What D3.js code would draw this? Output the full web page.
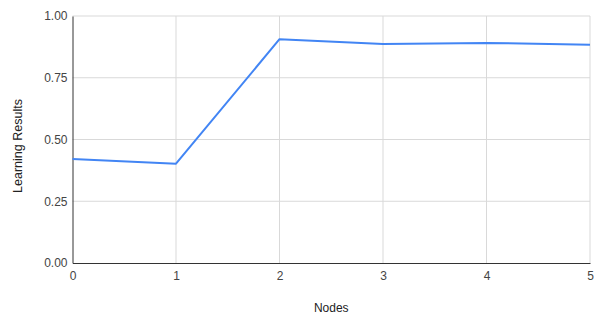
<!DOCTYPE html>
<html>
<head>
<meta charset="utf-8">
<script src="https://cdn.jsdelivr.net/npm/d3@7"></script>
<style>
  body { margin: 0; background: #fff; }
  text { font-family: Arial, "Liberation Sans", sans-serif; }
</style>
</head>
<body>
<div id="chart"></div>
<script>
// data
const nodes = [0, 1, 2, 3, 4, 5];
const learningResults = [0.421, 0.402, 0.906, 0.887, 0.891, 0.884];
const yTicks = [0, 0.25, 0.5, 0.75, 1];

const W = 602, H = 314;
const margin = { top: 16, right: 12, bottom: 51, left: 72.5 };
const width = W - margin.left - margin.right;
const height = H - margin.top - margin.bottom;

const svg = d3.select("#chart").append("svg")
  .attr("width", W).attr("height", H);

const g = svg.append("g")
  .attr("transform", `translate(${margin.left},${margin.top})`);

const x = d3.scaleLinear().domain([0, 5]).range([0, width]);
const y = d3.scaleLinear().domain([0, 1]).range([height, 0]);

// gridlines
g.append("g").selectAll("line").data(yTicks.slice(1)).enter().append("line")
  .attr("x1", 0).attr("x2", width)
  .attr("y1", d => y(d)).attr("y2", d => y(d))
  .attr("stroke", "#d9d9d9").attr("stroke-width", 1);
g.append("g").selectAll("line").data(nodes.slice(1)).enter().append("line")
  .attr("x1", d => x(d)).attr("x2", d => x(d))
  .attr("y1", 0).attr("y2", height)
  .attr("stroke", "#d9d9d9").attr("stroke-width", 1);

// axes
const yAxis = g.append("g")
  .call(d3.axisLeft(y).tickValues(yTicks).tickFormat(d3.format(".2f")).tickSize(0).tickPadding(5));
yAxis.select(".domain").attr("stroke", "#333");
yAxis.selectAll("text").attr("fill", "#444").style("font-size", "12px");

const xAxis = g.append("g")
  .attr("transform", `translate(0,${height})`)
  .call(d3.axisBottom(x).tickValues(nodes).tickFormat(d3.format("d")).tickSize(0).tickPadding(8));
xAxis.select(".domain").attr("stroke", "#333");
xAxis.selectAll("text").attr("fill", "#444").style("font-size", "12px");

// line
const line = d3.line()
  .x((d, i) => x(nodes[i]))
  .y(d => y(d));

g.append("path")
  .datum(learningResults)
  .attr("fill", "none")
  .attr("stroke", "#4285f4")
  .attr("stroke-width", 2)
  .attr("stroke-linejoin", "round")
  .attr("d", line);

// axis titles
svg.append("text")
  .attr("x", margin.left + width / 2).attr("y", 312)
  .attr("text-anchor", "middle")
  .attr("fill", "#222").style("font-size", "12px")
  .text("Nodes");

svg.append("text")
  .attr("transform", `translate(22,146) rotate(-90)`)
  .attr("text-anchor", "middle")
  .attr("fill", "#222").style("font-size", "12.5px")
  .text("Learning Results");
</script>
</body>
</html>
